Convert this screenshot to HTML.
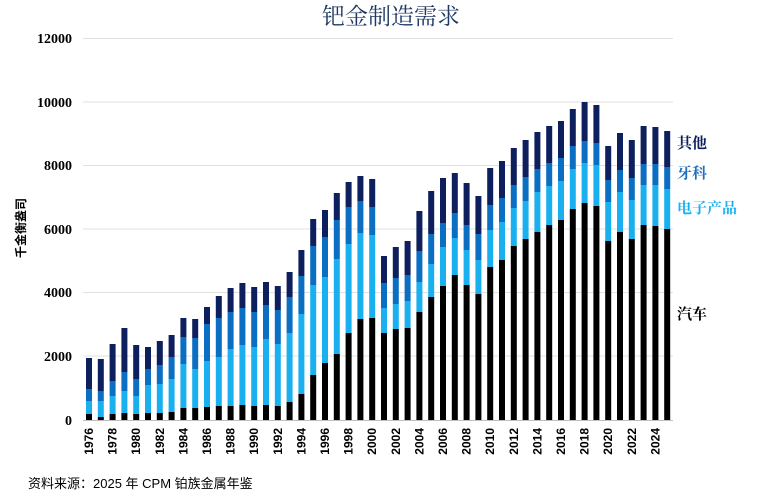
<!DOCTYPE html>
<html><head><meta charset="utf-8"><style>
html,body{margin:0;padding:0;background:#fff;width:762px;height:503px;overflow:hidden}
svg{display:block}
</style></head><body>
<svg id="c" width="762" height="503" xmlns="http://www.w3.org/2000/svg">
<text x="391" y="24" text-anchor="middle" font-family="'Liberation Serif','Noto Serif CJK SC',serif" font-size="23" fill="#1f3864">钯金制造需求</text>
<g stroke="#e0e0e0" stroke-width="1">
<line x1="83" y1="38.5" x2="673" y2="38.5"/>
<line x1="83" y1="102" x2="673" y2="102"/>
<line x1="83" y1="165.5" x2="673" y2="165.5"/>
<line x1="83" y1="229" x2="673" y2="229"/>
<line x1="83" y1="292.5" x2="673" y2="292.5"/>
<line x1="83" y1="356" x2="673" y2="356"/>
</g>
<g font-family="'Liberation Serif',serif" font-weight="bold" font-size="14" fill="#000" text-anchor="end">
<text x="72" y="43">12000</text>
<text x="72" y="107">10000</text>
<text x="72" y="170">8000</text>
<text x="72" y="234">6000</text>
<text x="72" y="297">4000</text>
<text x="72" y="361">2000</text>
<text x="72" y="425">0</text>
</g>
<text transform="translate(25,228) rotate(-90)" text-anchor="middle" font-family="'Liberation Sans','Noto Sans CJK SC',sans-serif" font-weight="bold" font-size="12" fill="#000">千金衡盎司</text>
<g id="bars"></g>
<line x1="83" y1="420.5" x2="673" y2="420.5" stroke="#bfbfbf"/>
<g font-family="'Liberation Sans',sans-serif" font-weight="bold" font-size="12" fill="#000" text-anchor="end">
<text transform="translate(93,428) rotate(-90)">1976</text>
<text transform="translate(116.6,428) rotate(-90)">1978</text>
<text transform="translate(140.2,428) rotate(-90)">1980</text>
<text transform="translate(163.8,428) rotate(-90)">1982</text>
<text transform="translate(187.4,428) rotate(-90)">1984</text>
<text transform="translate(211,428) rotate(-90)">1986</text>
<text transform="translate(234.6,428) rotate(-90)">1988</text>
<text transform="translate(258.2,428) rotate(-90)">1990</text>
<text transform="translate(281.8,428) rotate(-90)">1992</text>
<text transform="translate(305.4,428) rotate(-90)">1994</text>
<text transform="translate(329,428) rotate(-90)">1996</text>
<text transform="translate(352.6,428) rotate(-90)">1998</text>
<text transform="translate(376.2,428) rotate(-90)">2000</text>
<text transform="translate(399.8,428) rotate(-90)">2002</text>
<text transform="translate(423.4,428) rotate(-90)">2004</text>
<text transform="translate(447,428) rotate(-90)">2006</text>
<text transform="translate(470.6,428) rotate(-90)">2008</text>
<text transform="translate(494.2,428) rotate(-90)">2010</text>
<text transform="translate(517.8,428) rotate(-90)">2012</text>
<text transform="translate(541.4,428) rotate(-90)">2014</text>
<text transform="translate(565,428) rotate(-90)">2016</text>
<text transform="translate(588.6,428) rotate(-90)">2018</text>
<text transform="translate(612.2,428) rotate(-90)">2020</text>
<text transform="translate(635.8,428) rotate(-90)">2022</text>
<text transform="translate(659.4,428) rotate(-90)">2024</text>
</g>
<g font-family="'Liberation Serif','Noto Serif CJK SC',serif" font-weight="bold" font-size="15">
<text x="677" y="148" fill="#0d1f5c">其他</text>
<text x="677" y="178" fill="#1f6fc0">牙科</text>
<text x="677" y="213" fill="#1ab0ef">电子产品</text>
<text x="677" y="319" fill="#000">汽车</text>
</g>
<text x="28" y="488" font-family="'Liberation Sans','Noto Sans CJK SC',sans-serif" font-size="13" fill="#000">资料来源：2025 年 CPM 铂族金属年鉴</text>
</svg>
<script>
var d=[[414,401,389,358],[417,401,391,359],[414,396,381,344],[413,391,372,328],[414,396,379,345],[413,385,369,347],[413,384,365,341],[412,379,357,335],[408,364,337,318],[408,369,338,319],[407,361,324,307],[406,357,318,296],[406,349,312,288],[405,345,308,283],[406,347,312,287],[405,339,305,282],[406,344,310,286],[402,333,297,272],[394,314,276,250],[375,285,246,219],[363,277,237,210],[354,259,220,193],[333,244,207,182],[319,233,201,176],[318,235,207,179],
[333,308,283,256],[329,304,278,247],[328,301,275,241],[312,282,251,211],[297,264,234,191],[286,247,223,178],[275,238,213,173],[285,250,225,183],[294,260,234,196],[267,230,205,168],[260,222,198,161],[246,208,185,148],[239,201,177,140],[232,192,169,132],[225,186,163,126],[220,181,158,121],[209,169,146,109],[203,163,141,102],[206,165,143,105],[241,202,180,146],[232,192,170,133],[239,200,178,140],[225,185,164,126],[226,185,164,127],[229,189,167,131]];
var cols=["#000000","#1ab0ef","#0a6fc2","#0d1f5c"];
var g=document.getElementById("bars"),s="";
for(var i=0;i<d.length;i++){var x=89+i*11.8-3;var prev=420;
for(var k=0;k<4;k++){var y=d[i][k];s+='<rect x="'+x.toFixed(1)+'" y="'+y+'" width="6" height="'+(prev-y)+'" fill="'+cols[k]+'"/>';prev=y;}}
g.innerHTML=s;
</script>
</body></html>
